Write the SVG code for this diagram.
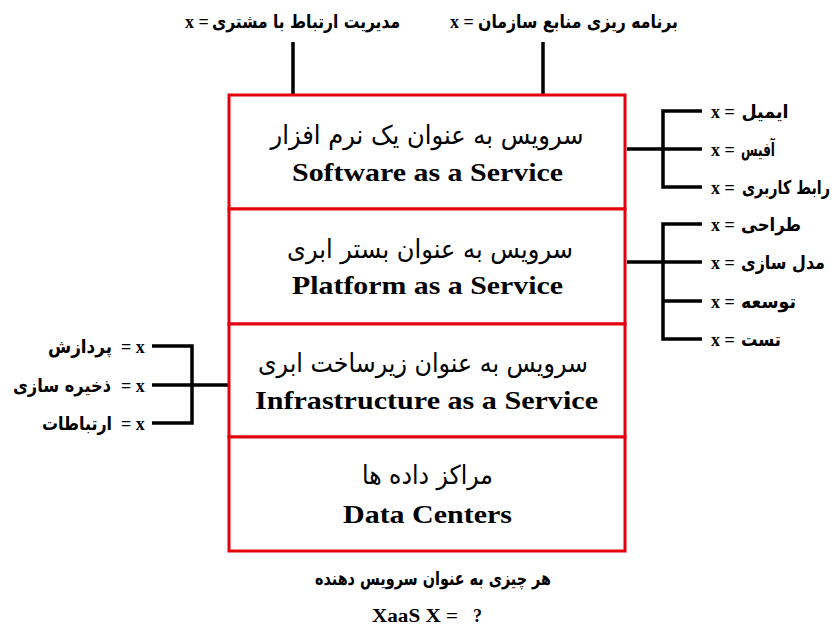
<svg xmlns="http://www.w3.org/2000/svg" width="836" height="627" viewBox="0 0 836 627">
<style>
.fa{font-family:"DejaVu Sans",sans-serif;font-weight:bold;font-size:19px;fill:#000;text-anchor:middle}
.fab{font-family:"DejaVu Sans",sans-serif;font-size:26px;fill:#000;text-anchor:middle}
.en{font-family:"Liberation Serif","Times New Roman",serif;font-weight:bold;font-size:26px;fill:#000;text-anchor:middle}
.x{font-family:"Liberation Serif","Times New Roman",serif;font-weight:bold;font-size:18px;fill:#000}
.box{fill:#fff;stroke:#e3000f;stroke-width:3}
.ln{stroke:#000;stroke-width:3.5;fill:none;stroke-linejoin:miter}
</style>
<rect width="836" height="627" fill="#fff"/>
<g id="connectors">
<path class="ln" d="M293 42V95M543 42V95"/>
<path class="ln" d="M702 111H663V187H702M663 149H702M627 149H663"/>
<path class="ln" d="M702 224H663V339H702M663 262H702M663 301H702M627 262H663"/>
<path class="ln" d="M152 346H192V423H152M152 385H192M192 385H228"/>
</g>
<g id="saas">
<rect class="box" x="229" y="95" width="396" height="114"/>
<text class="fab" x="427" y="144" textLength="313" lengthAdjust="spacingAndGlyphs">سرویس به عنوان یک نرم افزار</text>
<text class="en" x="427.5" y="181" textLength="271" lengthAdjust="spacingAndGlyphs">Software as a Service</text>
</g>
<g id="paas">
<rect class="box" x="229" y="209" width="396" height="115"/>
<text class="fab" x="430" y="258" textLength="286" lengthAdjust="spacingAndGlyphs">سرویس به عنوان بستر ابری</text>
<text class="en" x="427.5" y="294" textLength="271" lengthAdjust="spacingAndGlyphs">Platform as a Service</text>
</g>
<g id="iaas">
<rect class="box" x="229" y="324" width="396" height="113"/>
<text class="fab" x="423" y="372" textLength="330" lengthAdjust="spacingAndGlyphs">سرویس به عنوان زیرساخت ابری</text>
<text class="en" x="426.5" y="409" textLength="343" lengthAdjust="spacingAndGlyphs">Infrastructure as a Service</text>
</g>
<g id="datacenters">
<rect class="box" x="229" y="437" width="396" height="114"/>
<text class="fab" x="427.5" y="484" textLength="131" lengthAdjust="spacingAndGlyphs">مراکز داده ها</text>
<text class="en" x="427.5" y="523" textLength="169" lengthAdjust="spacingAndGlyphs">Data Centers</text>
</g>
<g id="crm">
<text class="x" x="185" y="28">x =</text>
<text class="fa" x="306" y="28" textLength="188" lengthAdjust="spacingAndGlyphs">مدیریت ارتباط با مشتری</text>
</g>
<g id="erp">
<text class="x" x="450" y="28">x =</text>
<text class="fa" x="578" y="28" textLength="200" lengthAdjust="spacingAndGlyphs">برنامه ریزی منابع سازمان</text>
</g>
<g id="email">
<text class="x" x="711" y="118">x =</text>
<text class="fa" x="765" y="118" textLength="47" lengthAdjust="spacingAndGlyphs">ایمیل</text>
</g>
<g id="office">
<text class="x" x="711" y="156">x =</text>
<text class="fa" x="758" y="156" textLength="34" lengthAdjust="spacingAndGlyphs">آفیس</text>
</g>
<g id="ui">
<text class="x" x="711" y="194">x =</text>
<text class="fa" x="786" y="194" font-size="18" textLength="88" lengthAdjust="spacingAndGlyphs">رابط کاربری</text>
</g>
<g id="design">
<text class="x" x="711" y="231">x =</text>
<text class="fa" x="771" y="231" textLength="60" lengthAdjust="spacingAndGlyphs">طراحی</text>
</g>
<g id="modeling">
<text class="x" x="711" y="269">x =</text>
<text class="fa" x="783" y="269" font-size="18" textLength="84" lengthAdjust="spacingAndGlyphs">مدل سازی</text>
</g>
<g id="development">
<text class="x" x="711" y="308">x =</text>
<text class="fa" x="768.5" y="308" textLength="55" lengthAdjust="spacingAndGlyphs">توسعه</text>
</g>
<g id="test">
<text class="x" x="711" y="346">x =</text>
<text class="fa" x="761" y="346" textLength="40" lengthAdjust="spacingAndGlyphs">تست</text>
</g>
<g id="processing">
<text class="x" x="121" y="353">= x</text>
<text class="fa" x="80" y="353" textLength="64" lengthAdjust="spacingAndGlyphs">پردازش</text>
</g>
<g id="storage">
<text class="x" x="121" y="392">= x</text>
<text class="fa" x="62" y="392" textLength="98" lengthAdjust="spacingAndGlyphs">ذخیره سازی</text>
</g>
<g id="communications">
<text class="x" x="121" y="430">= x</text>
<text class="fa" x="77" y="430" textLength="70" lengthAdjust="spacingAndGlyphs">ارتباطات</text>
</g>
<g id="caption">
<text class="fa" x="433" y="585" textLength="236" lengthAdjust="spacingAndGlyphs">هر چیزی به عنوان سرویس دهنده</text>
<text class="x" x="372" y="622" font-size="20" textLength="86" lengthAdjust="spacingAndGlyphs">XaaS X =</text>
<text class="x" x="473" y="622" font-size="20">?</text>
</g>
</svg>
